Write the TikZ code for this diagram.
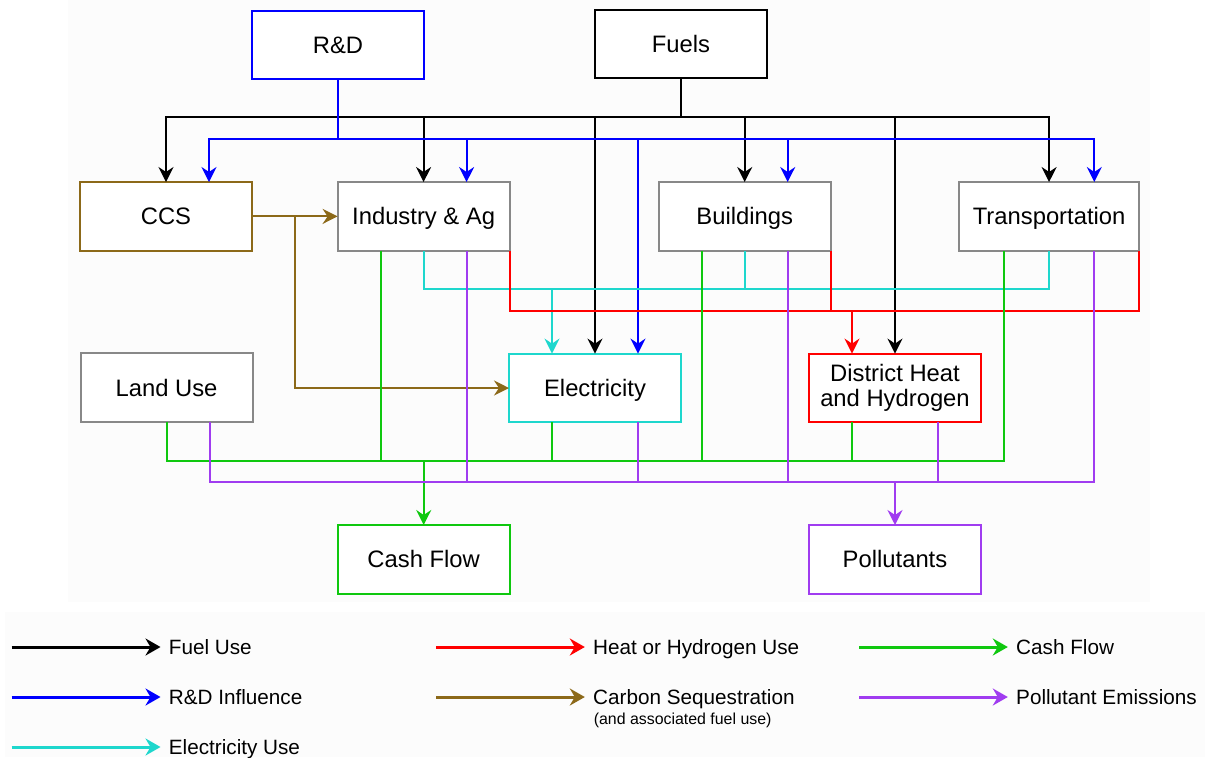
\documentclass[tikz,border=0pt]{standalone}
\usepackage{fontspec}
\setmainfont{Liberation Sans}
\usepackage{xcolor}
\usetikzlibrary{arrows.meta,positioning,calc}

\definecolor{rdblue}{RGB}{0,0,255}
\definecolor{ccsbrown}{RGB}{140,105,25}
\definecolor{elcyan}{RGB}{30,215,205}
\definecolor{heatred}{RGB}{255,0,0}
\definecolor{cashgreen}{RGB}{15,200,15}
\definecolor{pollpurple}{RGB}{160,60,240}
\definecolor{boxgray}{RGB}{136,136,136}
\definecolor{bgpanel}{RGB}{252,252,252}

\begin{document}
\begin{tikzpicture}[
  x=0.5pt, y=-0.5pt,
  font=\fontsize{11.9}{12.6}\selectfont,
  box/.style={draw=#1, line width=1pt, fill=white, align=center, inner sep=2pt, outer sep=0pt, minimum width=86pt, minimum height=34.4pt, text height=8.5pt, text depth=0pt},
  box/.default=boxgray,
  link/.style={line width=1pt, draw=#1},
  fuel/.style={link=black},
  rd/.style={link=rdblue},
  elu/.style={link=elcyan},
  heat/.style={link=heatred},
  ccs/.style={link=ccsbrown},
  cash/.style={link=cashgreen},
  poll/.style={link=pollpurple},
  legtext/.style={anchor=west, inner sep=0pt, font=\fontsize{10.35}{12}\selectfont, text height=7.4pt, text depth=0pt},
  legsmall/.style={anchor=west, inner sep=0pt, font=\fontsize{7.95}{9}\selectfont, text height=5.7pt, text depth=0pt},
  legarrow/.style={line width=1.5pt, -{Stealth[length=7.5pt, width=8.5pt, inset=2.5pt]}, shorten >=4pt},
  >={Stealth[length=7.5pt, width=7.5pt, inset=2.5pt]},
]
\useasboundingbox (0,0) rectangle (1205,757);
\fill[bgpanel] (68,0) rectangle (1150,601.7);
\fill[bgpanel] (5,611.7) rectangle (1205,757);

% boxes
\node[box=rdblue] (RD) at (338,45) {R\&D};
\node[box=black] (Fuels) at (681,44) {Fuels};
\node[box=ccsbrown] (CCS) at (166,216.4) {CCS};
\node[box] (Ind) at (423.6,216.4) {Industry \& Ag};
\node[box] (Bld) at (744.7,216.4) {Buildings};
\node[box, minimum width=90.3pt] (Trn) at (1049.1,216.4) {Transportation};
\node[box] (Land) at (166.5,387.8) {Land Use};
\node[box=elcyan] (Elec) at (595,388) {Electricity};
\node[box=heatred, text height=, text depth=] (DH) at (895,388) {District Heat\\and Hydrogen};
\node[box=cashgreen] (Cash) at (423.7,559.4) {Cash Flow};
\node[box=pollpurple] (Poll) at (895,559.4) {Pollutants};

% bus junctions
\coordinate (fbus) at (681,117.3);
\coordinate (rbus) at (338,139.3);
\coordinate (ebus) at (552,289.3);
\coordinate (hbus) at (852,310.7);
\coordinate (cbus) at (423.7,460.7);
\coordinate (pbus) at (895,482.3);
\coordinate (sbr) at (294.7,216.4);

% fuel use
\draw[fuel] (Fuels.south) -- (fbus);
\foreach \n in {CCS,Ind,Bld,Trn,Elec,DH} \draw[fuel,->] (fbus) -| (\n.north);

% R&D influence
\draw[rd] (RD.south) -- (rbus);
\foreach \n in {CCS,Ind,Bld,Elec} \draw[rd,->] (rbus) -| ([xshift=21.5pt]\n.north);
\draw[rd,->] (rbus) -| ([xshift=22.6pt]Trn.north);

% electricity use
\foreach \n in {Ind,Bld,Trn} \draw[elu] (\n.south) |- (ebus);
\draw[elu,->] (ebus) -- ([xshift=-21.5pt]Elec.north);

% heat or hydrogen use
\foreach \n in {Ind,Bld,Trn} \draw[heat] (\n.south east) |- (hbus);
\draw[heat,->] (hbus) -- ([xshift=-21.5pt]DH.north);

% carbon sequestration
\draw[ccs,->] (CCS.east) -- (Ind.west);
\draw[ccs,->] (sbr) |- (Elec.west);

% cash flow
\draw[cash] (Land.south) |- (cbus);
\foreach \n in {Ind,Elec,Bld,DH} \draw[cash] ([xshift=-21.5pt]\n.south) |- (cbus);
\draw[cash] ([xshift=-22.6pt]Trn.south) |- (cbus);
\draw[cash,->] (cbus) -- (Cash.north);

% pollutant emissions
\foreach \n in {Land,Ind,Elec,Bld,DH} \draw[poll] ([xshift=21.5pt]\n.south) |- (pbus);
\draw[poll] ([xshift=22.6pt]Trn.south) |- (pbus);
\draw[poll,->] (pbus) -- (Poll.north);

% legend
\foreach \st/\ax/\ay/\txt/\nm in {
  fuel/11.7/647/Fuel Use/lgfuel,
  rd/11.7/697/R\&D Influence/lgrd,
  elu/11.7/747/Electricity Use/lgelu,
  heat/436/647/Heat or Hydrogen Use/lgheat,
  ccs/436/697/Carbon Sequestration/lgccs,
  cash/859/647/Cash Flow/lgcash,
  poll/859/697/Pollutant Emissions/lgpoll}
{
  \coordinate (\nm-a) at (\ax,\ay);
  \node[legtext] (\nm) at ([xshift=78.4pt]\nm-a) {\txt};
  \draw[\st, legarrow] (\nm-a) -- (\nm.west);
}
\node[legsmall] (lgnote) at (593.4,718.5) {(and associated fuel use)};
\end{tikzpicture}
\end{document}
